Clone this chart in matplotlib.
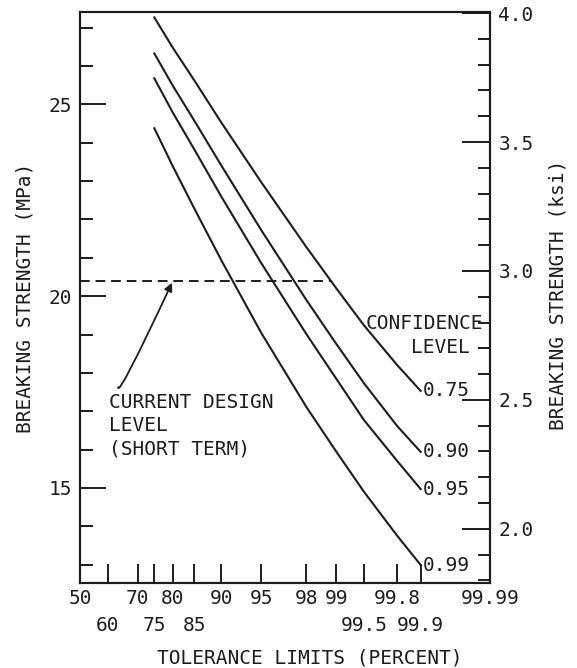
import numpy as np
import matplotlib.pyplot as plt
from matplotlib.ticker import MultipleLocator, FormatStrFormatter
from statistics import NormalDist

plt.rcParams['font.family'] = ['DejaVu Sans Mono', 'DejaVu Sans']

# Limites de tolerancia (porcentaje) donde se leen las curvas
tolerancia = [75, 80, 85, 90, 95, 98, 99, 99.5, 99.8, 99.9]
# Resistencia a la rotura (MPa) para cada nivel de confianza
conf_075 = [27.27, 26.48, 25.63, 24.53, 22.97, 21.28, 20.20, 19.24, 18.20, 17.53]
conf_090 = [26.33, 25.49, 24.58, 23.41, 21.72, 19.90, 18.75, 17.73, 16.61, 15.94]
conf_095 = [25.68, 24.79, 23.83, 22.60, 20.86, 19.01, 17.84, 16.77, 15.70, 14.97]
conf_099 = [24.38, 23.39, 22.29, 20.94, 19.04, 17.11, 15.94, 14.90, 13.75, 12.99]
niveles = ['0.75', '0.90', '0.95', '0.99']

nivel_diseno = 20.4  # MPa, nivel de diseno actual (corto plazo)

ticks_x = [60, 70, 75, 80, 85, 90, 95, 98, 99, 99.5, 99.8, 99.9]
etiquetas_fila1 = [50, 70, 80, 90, 95, 98, 99, 99.8, 99.99]
etiquetas_fila2 = [60, 75, 85, 99.5, 99.9]

negro = '#1c1c1c'


# Escala de probabilidad normal
def z(p):
    return NormalDist().inv_cdf(p / 100.0)


zs = [z(p) for p in tolerancia]

fig = plt.figure(figsize=(5.77, 6.68), dpi=100)
ax = fig.add_axes([0.1386, 0.1272, 0.7106, 0.8548])
ax.set_xlim(0, z(99.99))
ax.set_ylim(12.52, 27.41)

# Curvas de nivel de confianza
for serie, nivel in zip([conf_075, conf_090, conf_095, conf_099], niveles):
    ax.plot(zs, serie, color=negro, lw=1.5, solid_joinstyle='round')
    ax.text(zs[-1] + 0.015, serie[-1], nivel, ha='left', va='center',
            fontsize=14, color=negro)

# Linea del nivel de diseno hasta la curva 0.75
z_corte = np.interp(nivel_diseno, conf_075[::-1], zs[::-1])
ax.plot([0, z_corte], [nivel_diseno, nivel_diseno], color=negro, lw=1.4,
        linestyle=(0, (5, 3)))

ax.annotate('', xy=(z(79.8), nivel_diseno - 0.05), xycoords='data',
            xytext=(0.093, 0.343), textcoords='axes fraction',
            arrowprops=dict(arrowstyle='-|>', color=negro, lw=1.3,
                            connectionstyle='angle3,angleA=90,angleB=65',
                            shrinkA=0, shrinkB=0, mutation_scale=12))
ax.text(0.0707, 0.333, 'CURRENT DESIGN\nLEVEL\n(SHORT TERM)', transform=ax.transAxes,
        ha='left', va='top', fontsize=14, color=negro, linespacing=1.3)

ax.text(0.983, 0.455, 'CONFIDENCE', transform=ax.transAxes, ha='right', va='center',
        fontsize=14, color=negro)
ax.text(0.951, 0.413, 'LEVEL', transform=ax.transAxes, ha='right', va='center',
        fontsize=14, color=negro)

# Eje x (escala de probabilidad)
ax.set_xticks([z(p) for p in ticks_x])
ax.set_xticklabels([])
ax.tick_params(axis='x', direction='in', length=14, width=1.4, color=negro)
trans = ax.get_xaxis_transform()
for p in etiquetas_fila1:
    ax.text(z(p), -0.027, f'{p:g}', transform=trans, ha='center', va='center',
            fontsize=14, color=negro)
for p in etiquetas_fila2:
    ax.text(z(p), -0.074, f'{p:g}', transform=trans, ha='center', va='center',
            fontsize=14, color=negro)

# Eje izquierdo (MPa)
ax.yaxis.set_major_locator(MultipleLocator(5))
ax.yaxis.set_minor_locator(MultipleLocator(1))
ax.tick_params(axis='y', which='major', direction='in', length=19, width=1.4,
               labelsize=14, pad=6, color=negro, labelcolor=negro)
ax.tick_params(axis='y', which='minor', direction='in', length=9, width=1.4, color=negro)

# Eje derecho (ksi)
ax2 = ax.twinx()
ax2.set_ylim(1.79, 4.004)
ax2.yaxis.set_major_locator(MultipleLocator(0.5))
ax2.yaxis.set_minor_locator(MultipleLocator(0.1))
ax2.yaxis.set_major_formatter(FormatStrFormatter('%.1f'))
ax2.tick_params(axis='y', which='major', direction='in', length=20, width=1.4,
                labelsize=14, pad=6, color=negro, labelcolor=negro)
ax2.tick_params(axis='y', which='minor', direction='in', length=9, width=1.4, color=negro)

for a in (ax, ax2):
    for s in a.spines.values():
        s.set_linewidth(1.5)
        s.set_color(negro)

fig.text(25 / 577, 1 - 298 / 668, 'BREAKING STRENGTH (MPa)', rotation=90,
         ha='center', va='center', fontsize=14, color=negro)
fig.text(558 / 577, 1 - 295 / 668, 'BREAKING STRENGTH (ksi)', rotation=90,
         ha='center', va='center', fontsize=14, color=negro)
fig.text(310 / 577, 1 - 658 / 668, 'TOLERANCE LIMITS (PERCENT)',
         ha='center', va='center', fontsize=14, color=negro)

fig.savefig('out.png', dpi=100)
